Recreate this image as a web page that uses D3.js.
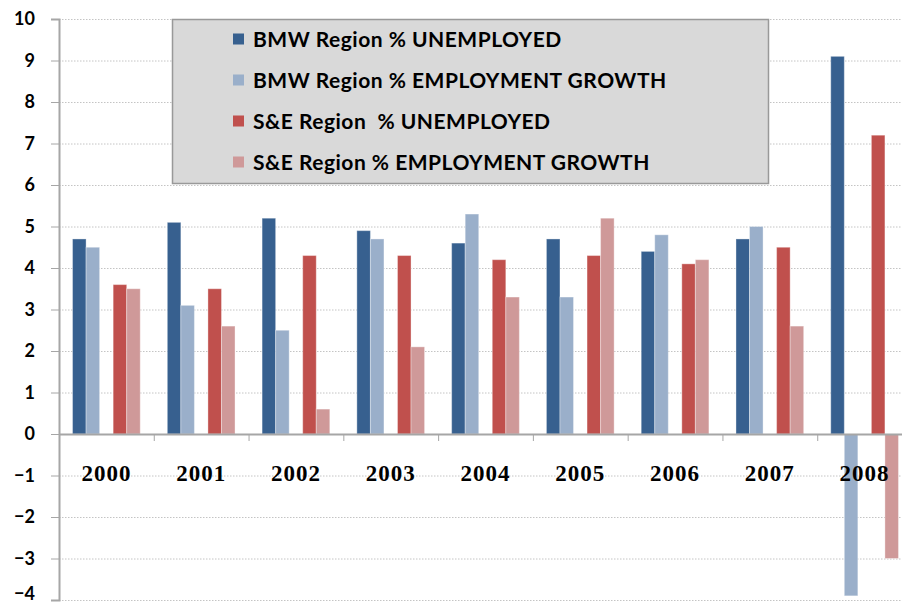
<!DOCTYPE html>
<html>
<head>
<meta charset="utf-8">
<script src="https://cdn.jsdelivr.net/npm/d3@7"></script>
<style>
  html, body { margin: 0; padding: 0; background: #fff; }
  svg { display: block; }
</style>
</head>
<body>
<div id="chart"></div>
<script>
const years = ['2000', '2001', '2002', '2003', '2004', '2005', '2006', '2007', '2008'];
const bmwUnemployed = [4.7, 5.1, 5.2, 4.9, 4.6, 4.7, 4.4, 4.7, 9.1];
const bmwGrowth = [4.5, 3.1, 2.5, 4.7, 5.3, 3.3, 4.8, 5.0, -3.9];
const seUnemployed = [3.6, 3.5, 4.3, 4.3, 4.2, 4.3, 4.1, 4.5, 7.2];
const seGrowth = [3.5, 2.6, 0.6, 2.1, 3.3, 5.2, 4.2, 2.6, -3.0];
const yTicks = [-4, -3, -2, -1, 0, 1, 2, 3, 4, 5, 6, 7, 8, 9, 10];

const series = [
  { name: 'BMW Region % UNEMPLOYED', slot: 's0', values: bmwUnemployed, color: '#37608f' },
  { name: 'BMW Region % EMPLOYMENT GROWTH', slot: 's1', values: bmwGrowth, color: '#9aafca' },
  { name: 'S&E Region  % UNEMPLOYED', slot: 's3', values: seUnemployed, color: '#c0504d' },
  { name: 'S&E Region % EMPLOYMENT GROWTH', slot: 's4', values: seGrowth, color: '#cf9999' }
];

const width = 902, height = 606;
const plot = { left: 59, right: 912, top: 19, bottom: 600 };

const svg = d3.select('#chart').append('svg')
  .attr('width', width)
  .attr('height', height);

const x = d3.scaleBand()
  .domain(years)
  .range([plot.left, plot.right])
  .paddingInner(0)
  .paddingOuter(0);

// 5 slots per group, the middle one left empty
const xs = d3.scaleBand()
  .domain(['s0', 's1', 's2', 's3', 's4'])
  .range([0, x.bandwidth()])
  .paddingOuter(1)
  .paddingInner(0);

const y = d3.scaleLinear()
  .domain([-4, 10])
  .range([plot.bottom, plot.top]);

// gridlines
svg.append('g')
  .selectAll('line')
  .data(yTicks.filter(d => d !== 0))
  .join('line')
  .attr('x1', plot.left)
  .attr('x2', width)
  .attr('y1', d => y(d) + 0.5)
  .attr('y2', d => y(d) + 0.5)
  .attr('stroke', '#c4c4c4')
  .attr('stroke-width', 1)
  .attr('stroke-dasharray', '1.5,1.5');

// bars
const groups = svg.append('g')
  .selectAll('g')
  .data(series)
  .join('g')
  .attr('fill', d => d.color);

groups.selectAll('rect')
  .data(s => s.values.map((v, i) => ({ v, year: years[i], slot: s.slot })))
  .join('rect')
  .attr('x', d => x(d.year) + xs(d.slot))
  .attr('width', xs.bandwidth())
  .attr('y', d => y(Math.max(0, d.v)))
  .attr('height', d => Math.abs(y(d.v) - y(0)))
  .attr('stroke', 'rgba(255,255,255,0.35)')
  .attr('stroke-width', 1);

// y axis
const yAxis = svg.append('g')
  .attr('transform', `translate(${plot.left},0)`)
  .call(d3.axisLeft(y).tickValues(yTicks).tickSize(8).tickPadding(16).tickFormat(d3.format('d')));
yAxis.select('.domain').attr('stroke', '#a6a6a6').attr('stroke-width', 2);
yAxis.selectAll('.tick line').attr('stroke', '#a6a6a6');
yAxis.selectAll('.tick text')
  .attr('font-family', 'Lato, "Open Sans", sans-serif')
  .attr('font-weight', 'bold')
  .attr('font-size', 18)
  .attr('fill', '#000');
// lowest label sits on the bottom edge; nudge it so it stays inside
yAxis.selectAll('.tick').filter(d => d === -4).select('text')
  .attr('dy', 0)
  .attr('y', -1);

// x axis on the zero line
const xAxis = svg.append('g')
  .attr('transform', `translate(0,${y(0)})`)
  .call(d3.axisBottom(x).tickSize(0).tickPadding(0));
xAxis.select('.domain').attr('stroke', '#a6a6a6').attr('stroke-width', 2);
xAxis.selectAll('.tick text')
  .attr('y', 47)
  .attr('dy', 0)
  .attr('font-family', '"Liberation Serif", "Times New Roman", serif')
  .attr('font-weight', 'bold')
  .attr('font-size', 23)
  .attr('letter-spacing', 1)
  .attr('fill', '#000');

// category tick marks between groups
svg.append('g')
  .selectAll('line')
  .data(years)
  .join('line')
  .attr('x1', d => x(d) + 0.5)
  .attr('x2', d => x(d) + 0.5)
  .attr('y1', y(0))
  .attr('y2', y(0) + 7)
  .attr('stroke', '#a6a6a6')
  .attr('stroke-width', 1);

// legend
const legend = svg.append('g').attr('transform', 'translate(172,19)');
legend.append('rect')
  .attr('x', 0.5)
  .attr('y', 0.5)
  .attr('width', 596)
  .attr('height', 164)
  .attr('fill', '#d9d9d9')
  .attr('stroke', '#999')
  .attr('stroke-width', 1.5);

const items = legend.selectAll('g.item')
  .data(series)
  .join('g')
  .attr('class', 'item')
  .attr('transform', (d, i) => `translate(61,${20 + i * 41})`);

items.append('rect')
  .attr('x', 0)
  .attr('y', -5.5)
  .attr('width', 11)
  .attr('height', 11)
  .attr('fill', d => d.color);

items.append('text')
  .attr('x', 20)
  .attr('dy', '0.36em')
  .attr('font-family', 'Lato, "Open Sans", sans-serif')
  .attr('font-weight', 'bold')
  .attr('font-size', 21)
  .attr('letter-spacing', 0.5)
  .attr('fill', '#000')
  .attr('xml:space', 'preserve')
  .style('white-space', 'pre')
  .text(d => d.name);
</script>
</body>
</html>
